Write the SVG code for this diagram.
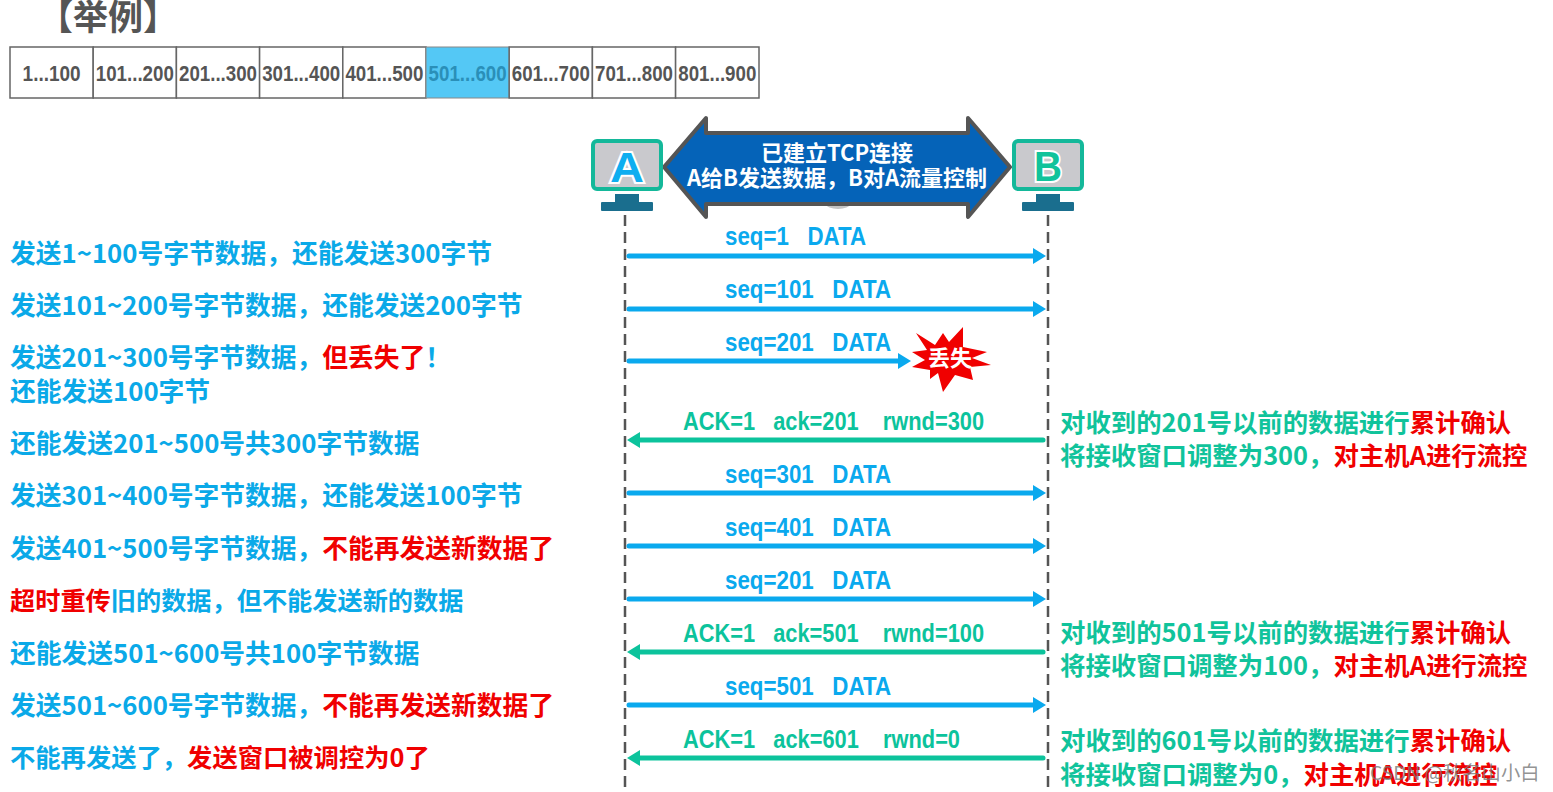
<svg xmlns="http://www.w3.org/2000/svg" width="1553" height="792" viewBox="0 0 1553 792">
<style>
text{font-family:"Liberation Sans","Noto Sans CJK SC",sans-serif;white-space:pre}
.cjk{font-family:"Noto Sans CJK SC","Liberation Sans",sans-serif;font-weight:700}
.l{font-size:25.75px;fill:#0aa9e8}
.r{font-size:25.4px;fill:#10c39b}
.red{fill:#f00000}
.cell{fill:#fff;stroke:#666;stroke-width:1.5}
.ct{font-size:22px;font-weight:700;fill:#555;text-anchor:middle}
.seq{font-size:26px;font-weight:700;fill:#0aa9ee}
.ack{font-size:26px;font-weight:700;fill:#0cc39c}
.life{stroke:#555;stroke-width:2.5;stroke-dasharray:11 6;fill:none}
.b{stroke:#0aa9ee;stroke-width:5;stroke-linecap:round;fill:none;marker-end:url(#hb)}
.g{stroke:#0cc39c;stroke-width:5;stroke-linecap:round;fill:none;marker-end:url(#hg)}
.scr{fill:#c9c9cd;stroke:#14b89a;stroke-width:4}
.std{fill:#1a6e8e}
.let{font-size:42px;font-weight:700;stroke:#fff;stroke-width:4;paint-order:stroke}
</style>
<defs>
<marker id="hb" markerUnits="userSpaceOnUse" markerWidth="14" markerHeight="18" refX="0" refY="9" orient="auto"><path d="M0 1L13 9L0 17Z" fill="#0aa9ee"/></marker>
<marker id="hg" markerUnits="userSpaceOnUse" markerWidth="14" markerHeight="18" refX="0" refY="9" orient="auto"><path d="M0 1L13 9L0 17Z" fill="#0cc39c"/></marker>
</defs>
<rect width="1553" height="792" fill="#fff"/>
<text id="title" class="cjk" x="38" y="30" font-size="35" fill="#555">【举例】</text>
<g id="table">
<rect class="cell" x="10" y="47" width="83.2" height="51"/>
<rect class="cell" x="93.2" y="47" width="83.2" height="51"/>
<rect class="cell" x="176.4" y="47" width="83.2" height="51"/>
<rect class="cell" x="259.6" y="47" width="83.2" height="51"/>
<rect class="cell" x="342.8" y="47" width="83.2" height="51"/>
<rect x="426" y="47" width="83.2" height="51" fill="#54c8f5" stroke="#888" stroke-width="1"/>
<rect class="cell" x="509.2" y="47" width="83.2" height="51"/>
<rect class="cell" x="592.4" y="47" width="83.2" height="51"/>
<rect class="cell" x="675.6" y="47" width="83.4" height="51"/>
<text class="ct" x="51.6" y="81" textLength="58" lengthAdjust="spacingAndGlyphs">1...100</text>
<text class="ct" x="134.8" y="81" textLength="78" lengthAdjust="spacingAndGlyphs">101...200</text>
<text class="ct" x="218" y="81" textLength="78" lengthAdjust="spacingAndGlyphs">201...300</text>
<text class="ct" x="301.2" y="81" textLength="78" lengthAdjust="spacingAndGlyphs">301...400</text>
<text class="ct" x="384.4" y="81" textLength="78" lengthAdjust="spacingAndGlyphs">401...500</text>
<text class="ct" x="467.6" y="81" textLength="78" lengthAdjust="spacingAndGlyphs" style="fill:#2a8fb8">501...600</text>
<text class="ct" x="550.8" y="81" textLength="78" lengthAdjust="spacingAndGlyphs">601...700</text>
<text class="ct" x="634" y="81" textLength="78" lengthAdjust="spacingAndGlyphs">701...800</text>
<text class="ct" x="717.3" y="81" textLength="78" lengthAdjust="spacingAndGlyphs">801...900</text>
</g>
<g id="left-notes" class="cjk">
<text class="cjk l" x="10" y="263">发送1~100号字节数据，还能发送300字节</text>
<text class="cjk l" x="10" y="315">发送101~200号字节数据，还能发送200字节</text>
<text class="cjk l" x="10" y="367">发送201~300号字节数据，<tspan class="red">但丢失了</tspan>！</text>
<text class="cjk l" x="10" y="401">还能发送100字节</text>
<text class="cjk l" x="10" y="453">还能发送201~500号共300字节数据</text>
<text class="cjk l" x="10" y="505">发送301~400号字节数据，还能发送100字节</text>
<text class="cjk l" x="10" y="558">发送401~500号字节数据，<tspan class="red">不能再发送新数据了</tspan></text>
<text class="cjk" x="10" y="610" font-size="25.2" fill="#0aa9e8"><tspan class="red">超时重传</tspan>旧的数据，但不能发送新的数据</text>
<text class="cjk l" x="10" y="663">还能发送501~600号共100字节数据</text>
<text class="cjk l" x="10" y="715">发送501~600号字节数据，<tspan class="red">不能再发送新数据了</tspan></text>
<text class="cjk" x="10" y="767" font-size="25.3" fill="#0aa9e8">不能再发送了，<tspan class="red">发送窗口被调控为0了</tspan></text>
</g>
<g id="tcp-banner">
<ellipse cx="838" cy="204" rx="12" ry="5" fill="#c4c4c4"/>
<path d="M664 167L706 118V133H968V118L1010 167L968 217V204H706V217Z" fill="#0563b8" stroke="#555" stroke-width="4" stroke-linejoin="round"/>
<text class="cjk" x="837" y="161" font-size="22" fill="#fff" text-anchor="middle">已建立TCP连接</text>
<text class="cjk" x="837" y="186" font-size="22" fill="#fff" text-anchor="middle">A给B发送数据，B对A流量控制</text>
</g>
<g id="host-a">
<rect class="scr" x="593" y="141" width="68" height="48" rx="4"/>
<rect class="std" x="615" y="194" width="24" height="9"/>
<rect class="std" x="601" y="202" width="52" height="9" rx="1"/>
<text class="let" x="627" y="182" text-anchor="middle" fill="#0eaef0" textLength="34" lengthAdjust="spacingAndGlyphs">A</text>
</g>
<g id="host-b">
<rect class="scr" x="1014" y="141" width="68" height="48" rx="4"/>
<rect class="std" x="1036" y="194" width="24" height="9"/>
<rect class="std" x="1022" y="202" width="52" height="9" rx="1"/>
<text class="let" x="1048" y="181" text-anchor="middle" fill="#10c39b" textLength="28" lengthAdjust="spacingAndGlyphs">B</text>
</g>
<g id="connectors">
<line class="life" x1="625" y1="215" x2="625" y2="792"/>
<line class="life" x1="1048" y1="215" x2="1048" y2="792"/>
<line class="b" x1="629" y1="256" x2="1033" y2="256"/>
<line class="b" x1="629" y1="309" x2="1033" y2="309"/>
<line class="b" x1="629" y1="361" x2="898" y2="361"/>
<line class="g" x1="1043" y1="440" x2="640" y2="440"/>
<line class="b" x1="629" y1="493" x2="1033" y2="493"/>
<line class="b" x1="629" y1="546" x2="1033" y2="546"/>
<line class="b" x1="629" y1="599" x2="1033" y2="599"/>
<line class="g" x1="1043" y1="652" x2="640" y2="652"/>
<line class="b" x1="629" y1="705" x2="1033" y2="705"/>
<line class="g" x1="1043" y1="758" x2="640" y2="758"/>
</g>
<g id="connector-labels">
<text class="seq" x="725" y="245" textLength="141" lengthAdjust="spacingAndGlyphs">seq=1   DATA</text>
<text class="seq" x="725" y="298" textLength="166" lengthAdjust="spacingAndGlyphs">seq=101   DATA</text>
<text class="seq" x="725" y="351" textLength="166" lengthAdjust="spacingAndGlyphs">seq=201   DATA</text>
<text class="ack" x="683" y="430" textLength="301" lengthAdjust="spacingAndGlyphs">ACK=1   ack=201    rwnd=300</text>
<text class="seq" x="725" y="483" textLength="166" lengthAdjust="spacingAndGlyphs">seq=301   DATA</text>
<text class="seq" x="725" y="536" textLength="166" lengthAdjust="spacingAndGlyphs">seq=401   DATA</text>
<text class="seq" x="725" y="589" textLength="166" lengthAdjust="spacingAndGlyphs">seq=201   DATA</text>
<text class="ack" x="683" y="642" textLength="301" lengthAdjust="spacingAndGlyphs">ACK=1   ack=501    rwnd=100</text>
<text class="seq" x="725" y="695" textLength="166" lengthAdjust="spacingAndGlyphs">seq=501   DATA</text>
<text class="ack" x="683" y="748" textLength="277" lengthAdjust="spacingAndGlyphs">ACK=1   ack=601    rwnd=0</text>
</g>
<g id="lost">
<polygon fill="#f00000" points="916,333 935,345 943,333 949,342 963,327 963,347 987,352 972,358 991,365 970,367 973,380 955,375 943,392 938,373 930,379 930,370 912,367 925,360 912,352 927,350"/>
<text class="cjk" x="950" y="366" font-size="22" fill="#fff" text-anchor="middle">丢失</text>
</g>
<g id="right-notes">
<text class="cjk r" x="1060" y="432">对收到的201号以前的数据进行<tspan class="red">累计确认</tspan></text>
<text class="cjk r" x="1060" y="465">将接收窗口调整为300，<tspan class="red">对主机A进行流控</tspan></text>
<text class="cjk r" x="1060" y="642">对收到的501号以前的数据进行<tspan class="red">累计确认</tspan></text>
<text class="cjk r" x="1060" y="675">将接收窗口调整为100，<tspan class="red">对主机A进行流控</tspan></text>
<text class="cjk r" x="1060" y="750">对收到的601号以前的数据进行<tspan class="red">累计确认</tspan></text>
<text class="cjk r" x="1060" y="784">将接收窗口调整为0，<tspan class="red">对主机A进行流控</tspan></text>
</g>
<text id="watermark" x="1370" y="780" font-size="19.3" fill="#777" fill-opacity="0.8" style="font-family:'Noto Sans CJK SC',sans-serif">CSDN @秋名山小白</text>
</svg>
